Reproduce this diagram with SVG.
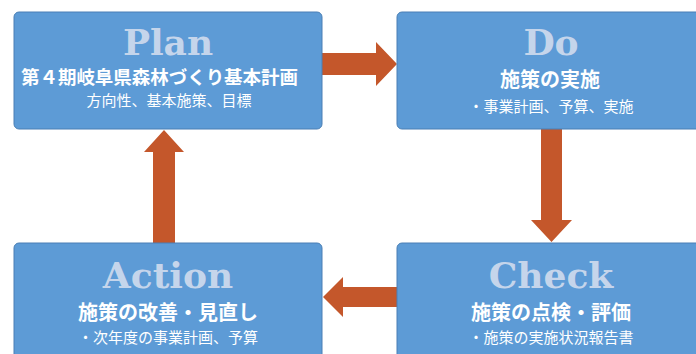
<svg xmlns="http://www.w3.org/2000/svg" width="696" height="354" viewBox="0 0 696 354">
<defs>
<style>
.box{fill:#5d9bd6;stroke:#4a7fb5;stroke-width:1}
.ttl{font-family:"DejaVu Serif","Liberation Serif",serif;font-weight:bold;font-size:36px;fill:#c5d5eb;text-anchor:middle}
.main{font-family:"Noto Sans CJK JP",sans-serif;font-weight:bold;font-size:20px;fill:#ffffff;text-anchor:middle}
.sub{font-family:"Noto Sans CJK JP",sans-serif;font-size:15px;fill:#ffffff;text-anchor:middle}
.arr{fill:#c4572b}
</style>
</defs>
<rect width="696" height="354" fill="#ffffff"/>
<g id="connectors">
<polygon class="arr" points="322,53 376,53 376,42 397,64 376,86 376,75 322,75"/>
<polygon class="arr" points="541,129 562,129 562,220 572,220 551.5,242 531,220 541,220"/>
<polygon class="arr" points="397,287 343,287 343,277 323,297 343,317 343,307 397,307"/>
<polygon class="arr" points="153,243 175,243 175,152 184,152 164,130 144,152 153,152"/>
</g>
<g id="plan">
<rect class="box" x="14" y="12" width="308" height="117" rx="5"/>
<text class="ttl" x="168" y="55">Plan</text>
<text x="21" y="84" font-family="'Noto Sans CJK JP',sans-serif" font-weight="bold" font-size="18.5" fill="#ffffff" textLength="277">第４期岐阜県森林づくり基本計画</text>
<text class="sub" x="169" y="106" font-size="16">方向性、基本施策、目標</text>
</g>
<g id="do">
<rect class="box" x="397" y="12" width="308" height="117" rx="5"/>
<text class="ttl" x="551" y="55">Do</text>
<text class="main" x="550" y="87">施策の実施</text>
<text class="sub" x="551" y="112">・事業計画、予算、実施</text>
</g>
<g id="action">
<rect class="box" x="14" y="243" width="308" height="120" rx="5"/>
<text class="ttl" x="168" y="288">Action</text>
<text class="main" x="168" y="320">施策の改善・見直し</text>
<text class="sub" x="168" y="343">・次年度の事業計画、予算</text>
</g>
<g id="check">
<rect class="box" x="397" y="243" width="308" height="120" rx="5"/>
<text class="ttl" x="551" y="288">Check</text>
<text class="main" x="551" y="320">施策の点検・評価</text>
<text class="sub" x="551" y="343">・施策の実施状況報告書</text>
</g>
</svg>
